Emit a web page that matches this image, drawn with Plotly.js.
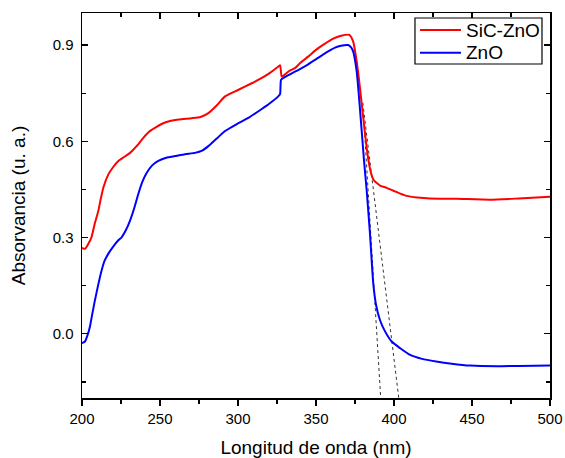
<!DOCTYPE html>
<html>
<head>
<meta charset="utf-8">
<script src="https://cdn.plot.ly/plotly-3.0.1.min.js"></script>
<style>html,body{margin:0;padding:0;background:#fff;}#chart{width:565px;height:458px;}</style>
</head>
<body>
<div id="chart"></div>
<script>
// Wavelength (nm) and absorbance
var sicznoX = [200,202,204,206,208,210.5,212,213.7,216.9,220,223.3,227,230.8,235,239.3,243,246.8,251,255.3,262,270.3,276,281,286,291.7,300,308.8,315,320,325,327,328,330,333,336.5,340,345,350,355,361,366,371.4,373.9,376.1,378.2,380.3,382.5,383.5,384.6,385.5,386.7,388,389.5,391,395.3,399.6,404,408,415,423,440,461.5,480,500];
var sicznoY = [0.268,0.265,0.28,0.30,0.34,0.384,0.42,0.456,0.497,0.52,0.539,0.551,0.564,0.585,0.611,0.630,0.642,0.654,0.662,0.668,0.672,0.676,0.688,0.71,0.74,0.760,0.781,0.797,0.812,0.83,0.837,0.802,0.808,0.82,0.828,0.845,0.864,0.885,0.902,0.92,0.929,0.932,0.91,0.848,0.766,0.673,0.58,0.545,0.515,0.497,0.482,0.474,0.468,0.462,0.455,0.446,0.437,0.43,0.425,0.422,0.421,0.418,0.422,0.427];

var znoX = [200,201.9,203.5,205.1,206.5,208.3,210.5,212.6,214.5,216.9,220,223,225.4,228,230.8,233.5,236.1,238.8,241.5,245,248.9,254,259.6,266,272.4,277,281,286,291.7,299,306.6,315,320,325.8,327,327.6,330,333,336.5,340,345,349.4,355,362.2,366,370.7,372.5,373.9,376.1,377.8,379.3,380.8,382.5,384.6,386.7,388.5,391,394,398.5,404,410,418,427,437,449,466,480,500];
var znoY = [-0.029,-0.024,-0.005,0.023,0.06,0.105,0.155,0.198,0.228,0.25,0.272,0.29,0.301,0.322,0.353,0.392,0.436,0.475,0.502,0.525,0.539,0.549,0.554,0.56,0.564,0.571,0.585,0.607,0.632,0.653,0.673,0.70,0.717,0.74,0.748,0.792,0.80,0.808,0.817,0.826,0.84,0.854,0.872,0.892,0.898,0.90,0.893,0.879,0.817,0.724,0.632,0.539,0.446,0.312,0.157,0.09,0.043,0.01,-0.024,-0.045,-0.065,-0.078,-0.086,-0.093,-0.099,-0.101,-0.10,-0.099];

// Dotted tangent lines (band-edge extrapolation)
var tangentZnoX = [381.0, 391.6];
var tangentZnoY = [0.64, -0.21];
var tangentSicX = [380.0, 403.8];
var tangentSicY = [0.72, -0.23];

var seriesNames = ["SiC-ZnO", "ZnO"];
var seriesColors = ["#ff0000", "#0000ff"];
var xTickVals = [200,250,300,350,400,450,500];
var yTickVals = [0.0,0.3,0.6,0.9];

var traces = [
  {x: tangentZnoX, y: tangentZnoY, mode: 'lines', line: {color: '#333', width: 1, dash: 'dot'}, showlegend: false, hoverinfo: 'skip'},
  {x: tangentSicX, y: tangentSicY, mode: 'lines', line: {color: '#333', width: 1, dash: 'dot'}, showlegend: false, hoverinfo: 'skip'},
  {x: sicznoX, y: sicznoY, mode: 'lines', name: seriesNames[0], showlegend: false, line: {color: seriesColors[0], width: 2, shape: 'spline', smoothing: 0.5}},
  {x: znoX, y: znoY, mode: 'lines', name: seriesNames[1], showlegend: false, line: {color: seriesColors[1], width: 2, shape: 'spline', smoothing: 0.5}},
  {x: [200], y: [null], xaxis: 'x2', mode: 'lines', showlegend: false, hoverinfo: 'skip'}
];

// Boxed legend in the top-right corner (paper coordinates)
var legX0 = 0.7115, legX1 = 0.9829, legY0 = 0.8675, legY1 = 0.987;
var rowY = [0.9558, 0.8969];
var shapes = [
  {type: 'rect', xref: 'paper', yref: 'paper', x0: legX0, x1: legX1, y0: legY0, y1: legY1,
   line: {color: '#000', width: 1.2}, fillcolor: '#fff', layer: 'above'}
];
var annotations = [];
seriesNames.forEach(function(name, i){
  shapes.push({type: 'line', xref: 'paper', yref: 'paper', x0: 0.7222, x1: 0.8098, y0: rowY[i], y1: rowY[i],
               line: {color: seriesColors[i], width: 2}, layer: 'above'});
  annotations.push({xref: 'paper', yref: 'paper', x: 0.8162, y: rowY[i], xanchor: 'left', yanchor: 'middle',
                    text: name, showarrow: false, font: {size: 19, color: '#000'}});
});

var fontFam = 'Liberation Sans, Arial, sans-serif';
var layout = {
  width: 565, height: 458,
  margin: {l: 82, r: 15, t: 13, b: 60},
  paper_bgcolor: '#fff', plot_bgcolor: '#fff',
  font: {family: fontFam, color: '#000', size: 15},
  showlegend: false,
  shapes: shapes,
  annotations: annotations,
  xaxis: {
    range: [200, 500], tickvals: xTickVals, ticktext: xTickVals.map(String),
    ticks: 'outside', ticklen: 6, tickwidth: 1.2, tickcolor: '#000',
    minor: {dtick: 25, tick0: 200, ticks: 'outside', ticklen: 4, tickwidth: 1.2, tickcolor: '#000'},
    showline: true, linecolor: '#000', linewidth: 1.5, mirror: true,
    showgrid: false, zeroline: false,
    tickfont: {size: 15},
    title: {text: 'Longitud de onda (nm)', font: {size: 19}, standoff: 16}
  },
  xaxis2: {
    overlaying: 'x', side: 'top', range: [200, 500], tickvals: xTickVals,
    ticks: 'inside', ticklen: 6, tickwidth: 1.2, tickcolor: '#000', showticklabels: false,
    minor: {dtick: 25, tick0: 200, ticks: 'inside', ticklen: 4, tickwidth: 1.2, tickcolor: '#000'},
    showline: false, showgrid: false, zeroline: false
  },
  yaxis: {
    range: [-0.2, 1.0], tickvals: yTickVals, ticktext: yTickVals.map(function(v){return v.toFixed(1);}),
    ticks: 'inside', ticklen: 6, tickwidth: 1.2, tickcolor: '#000',
    minor: {dtick: 0.15, tick0: 0, ticks: 'inside', ticklen: 4, tickwidth: 1.2, tickcolor: '#000'},
    showline: true, linecolor: '#000', linewidth: 1.5, mirror: 'ticks',
    showgrid: false, zeroline: false,
    tickfont: {size: 15}, ticklabelstandoff: 4,
    title: {text: 'Absorvancia (u. a.)', font: {size: 19}, standoff: 22}
  }
};

Plotly.newPlot('chart', traces, layout, {staticPlot: true, displayModeBar: false});
</script>
</body>
</html>
